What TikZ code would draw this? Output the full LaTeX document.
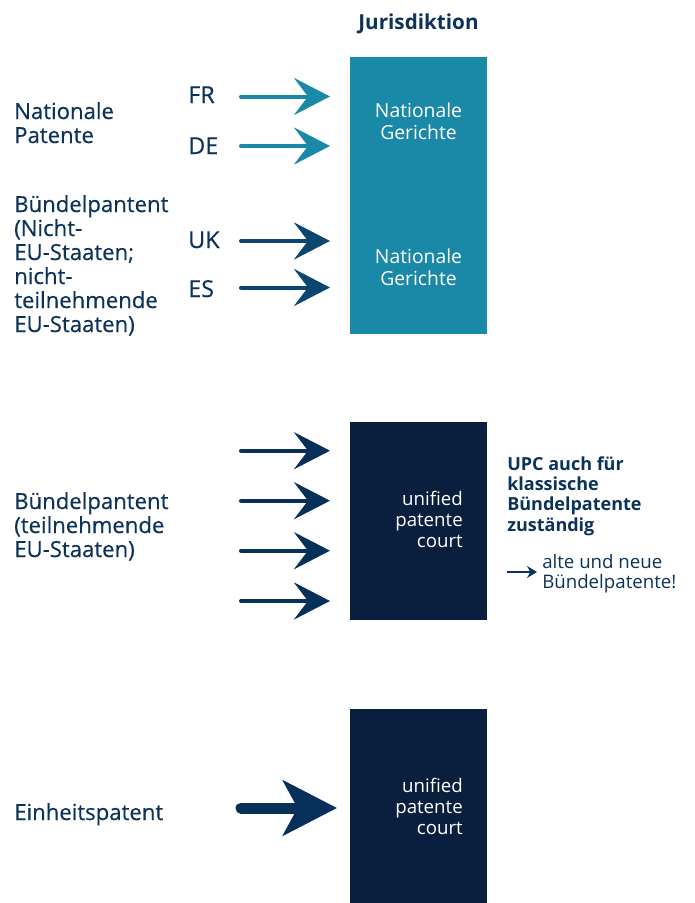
\documentclass[tikz,border=0pt]{standalone}
\usepackage{fontspec}
\setmainfont{Open Sans}
\newfontfamily\mittel[FakeBold=0.4]{Open Sans}
\usetikzlibrary{arrows.meta,positioning}

\definecolor{upcnavy}{HTML}{0C3259}
\definecolor{upcteal}{HTML}{1A89A8}
\definecolor{upcdark}{HTML}{0A1F3D}
\definecolor{upcblue}{HTML}{0A4670}
\definecolor{upcarrow}{HTML}{063059}

\begin{document}
\begin{tikzpicture}[x=0.75pt,y=-0.75pt,
  lefttext/.style={font=\mittel\fontsize{16.6}{18}\selectfont, text=upcnavy, align=left, anchor=base west, inner sep=0},
  land/.style={font=\mittel\fontsize{17.5}{20}\selectfont, text=upcnavy, anchor=base west, inner sep=0},
  boxtext/.style={font=\fontsize{14.5}{16.5}\selectfont, text=white, align=center, anchor=base, inner sep=0},
  courttext/.style={font=\fontsize{14}{15.75}\selectfont, text=white, align=right, anchor=base east, inner sep=0},
  gericht/.style={anchor=north west, inner sep=0, minimum width=102.75pt},
  pfeil/.style={line width=3pt, line cap=round, -{Stealth[length=27pt,width=27.75pt,inset=10.5pt]}, shorten >=15pt},
]
\useasboundingbox (0,0) rectangle (694,903);

% Spalte Jurisdiktion
\node[font=\bfseries\fontsize{15.5}{18}\selectfont, text=upcnavy, anchor=base, inner sep=0] (jur) at (418.5,29.5) {Jurisdiktion};
\node[gericht, fill=upcteal, minimum height=207.75pt] (natbox) at (350,57) {};
\node[gericht, fill=upcdark, minimum height=148.5pt] (upc1) at (350,422) {};
\node[gericht, fill=upcdark, minimum height=145.5pt] (upc2) at (350,709) {};

\node[boxtext] (nat1) at (418.5,139.5) {Nationale\\Gerichte};
\node[boxtext] (nat2) at (418.5,285.5) {Nationale\\Gerichte};
\node[courttext] (court1) at (463,547) {unified\\patente\\court};
\node[courttext] (court2) at (463,834) {unified\\patente\\court};

% linke Spalte
\node[lefttext] (natpat) at (14,143) {Nationale\\Patente};
\node[lefttext] (buendel1) at (14,332) {Bündelpantent\\(Nicht-\\EU-Staaten;\\nicht-\\teilnehmende\\EU-Staaten)};
\node[lefttext] (buendel2) at (14,557) {Bündelpantent\\(teilnehmende\\EU-Staaten)};
\node[lefttext] (einheit) at (14,820) {Einheitspatent};

\node[land] (fr) at (188,103) {FR};
\node[land] (de) at (188,154) {DE};
\node[land] (uk) at (188,248) {UK};
\node[land] (es) at (188,297) {ES};

% Pfeile
\coordinate (fr-s) at (241,96.5);
\coordinate (de-s) at (241,146);
\coordinate (uk-s) at (241,241);
\coordinate (es-s) at (241,287.5);
\draw[pfeil, upcteal] (fr-s) -- (fr-s -| natbox.west);
\draw[pfeil, upcteal] (de-s) -- (de-s -| natbox.west);
\draw[pfeil, upcblue] (uk-s) -- (uk-s -| natbox.west);
\draw[pfeil, upcblue] (es-s) -- (es-s -| natbox.west);

\foreach \y [count=\i] in {450.7,500.7,550.7,601} {
  \coordinate (upc-s\i) at (241,\y);
  \draw[pfeil, upcarrow] (upc-s\i) -- (upc-s\i -| upc1.west);
}

\coordinate (einheit-s) at (241,808);
\draw[line width=8.25pt, line cap=round, upcarrow,
  -{Stealth[length=40.5pt,width=41.25pt,inset=11pt]}, shorten >=9.75pt]
  (einheit-s) -- (einheit-s -| upc2.west);

% Hinweis rechts
\node[font=\bfseries\fontsize{13.5}{15.2}\selectfont, text=upcnavy, align=left, anchor=base west, inner sep=0] (hinweis) at (507,531) {UPC auch für\\klassische\\Bündelpatente\\zuständig};
\node[font=\fontsize{14}{15}\selectfont, text=upcnavy, align=left, anchor=base west, inner sep=0] (altneu) at (542,588) {alte und neue\\Bündelpatente!};
\coordinate (klein-s) at (507,572);
\draw[line width=1.1pt, upcnavy, -{Stealth[length=7.5pt,width=9pt,inset=2.5pt]}, shorten >=3.75pt]
  (klein-s) -- (klein-s -| altneu.west);
\end{tikzpicture}
\end{document}
